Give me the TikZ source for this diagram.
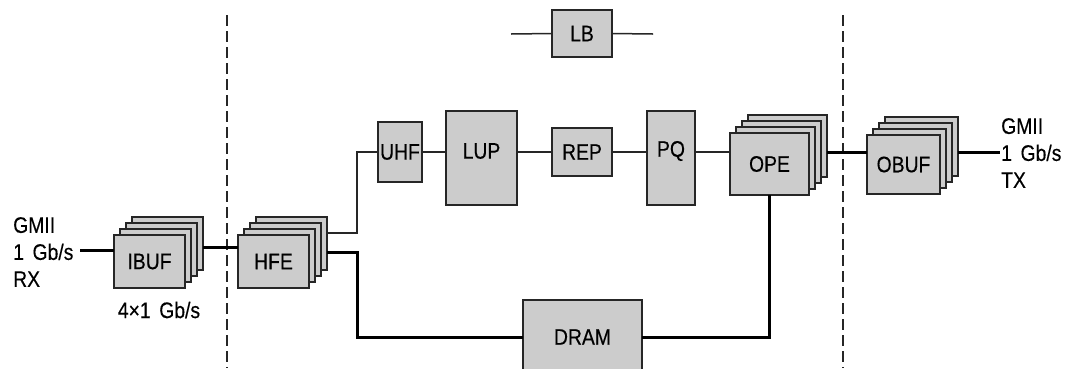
\documentclass[tikz,border=0pt]{standalone}
\usepackage{fontspec}
\setmainfont[FakeStretch=0.86,FakeBold=0.3,WordSpace=1.6]{Liberation Sans}
\usetikzlibrary{calc}
\begin{document}
\begin{tikzpicture}[x=1pt,y=-1pt,
  lbl/.style={font=\fontsize{22.5}{27}\selectfont, inner sep=0pt},
  blk/.style={draw=black!85, fill=black!20, line width=1.6pt, inner sep=0pt, outer sep=0pt, font=\fontsize{22.5}{27}\selectfont},
  wire/.style={line width=1.5pt, draw=black!85},
  buswire/.style={line width=3pt, draw=black},
  divider/.style={line width=1.3pt, draw=black!85, dash pattern=on 11pt off 5pt}]
\clip (0,0) rectangle (1065,368);
\fill[white] (0,0) rectangle (1065,368);

% dividers
\coordinate (d1t) at (227,15); \coordinate (d1b) at (227,368);
\coordinate (d2t) at (843,15); \coordinate (d2b) at (843,368);
\draw[divider] (d1t) -- (d1b);
\draw[divider] (d2t) -- (d2b);

% LB
\node[blk, minimum width=60pt, minimum height=47pt] (lb) at (582,33.5) {LB};
\coordinate (lbl) at (511,34); \coordinate (lbr) at (653,34);
\draw[wire] (lbl) -- (lb.west);
\draw[wire] (lb.east) -- (lbr);

% stacks
\foreach \i in {3,2,1} {
  \node[blk, minimum width=71pt, minimum height=53pt] (ibuf\i) at (149.5+6*\i,261.5-6*\i) {};
  \node[blk, minimum width=71pt, minimum height=53pt] (hfe\i) at (273.5+6*\i,261.5-6*\i) {};
  \node[blk, minimum width=79pt, minimum height=62pt] (ope\i) at (769.5+6*\i,164-6*\i) {};
  \node[blk, minimum width=73pt, minimum height=59pt] (obuf\i) at (903.5+6*\i,164.5-6*\i) {};
}
\node[blk, minimum width=71pt, minimum height=53pt] (ibuf) at (149.5,261.5) {IBUF};
\node[blk, minimum width=71pt, minimum height=53pt] (hfe) at (273.5,261.5) {HFE};
\node[blk, minimum width=79pt, minimum height=62pt] (ope) at (769.5,164) {OPE};
\node[blk, minimum width=73pt, minimum height=59pt] (obuf) at (903.5,164.5) {OBUF};

% pipeline
\node[blk, minimum width=44pt, minimum height=60pt] (uhf) at (400,152) {UHF};
\node[blk, minimum width=71pt, minimum height=94pt] (lup) at (481.5,158) {};
\node[lbl] at (lup.center |- uhf.west) [yshift=1pt] {LUP};
\node[blk, minimum width=60pt, minimum height=48pt] (rep) at (582,152) {REP};
\node[blk, minimum width=48pt, minimum height=94pt] (pq) at (671,158) {};
\node[lbl] at (pq.center |- uhf.west) [yshift=1pt] {PQ};
\node[blk, minimum width=119pt, minimum height=74pt] (dram) at (582.5,337) {DRAM};

% texts
\node[lbl, align=left, anchor=west] (rx) at (13,252) {GMII\\1 Gb/s\\RX};
\node[lbl, align=left, anchor=west] (tx) at (1001,153) {GMII\\1 Gb/s\\TX};
\node[lbl] (rate) at (159,310) {4×1 Gb/s};

\coordinate (rxend) at (80,250);
\coordinate (txend) at (1000,152);
\coordinate (bus) at (357,0);

% connectors
\draw[buswire] (rxend) -- (rxend -| ibuf.west);
\draw[buswire] ([yshift=-3.5pt]ibuf3.east) -- ([yshift=-3.5pt]ibuf3.east -| hfe.west);
\draw[wire] ([yshift=10.5pt]hfe3.east) -| (bus |- uhf.west) -- (uhf.west);
\draw[buswire] ([yshift=-8.5pt]hfe3.east) -| (bus |- dram.west) -- (dram.west);
\draw[buswire] (dram.east) -| (ope.south);
\draw[wire] (uhf.east) -- (uhf.east -| lup.west);
\draw[wire] (uhf.east -| lup.east) -- (rep.west);
\draw[wire] (rep.east) -- (rep.east -| pq.west);
\draw[wire] (rep.east -| pq.east) -- (rep.east -| ope.west);
\draw[buswire] ([yshift=-6pt]ope3.east) -- ([yshift=-6pt]ope3.east -| obuf.west);
\draw[buswire] ([yshift=-5.5pt]obuf3.east) -- (txend);
\end{tikzpicture}
\end{document}
